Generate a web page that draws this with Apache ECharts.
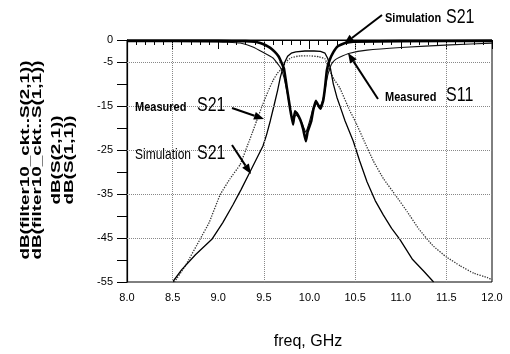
<!DOCTYPE html>
<html>
<head>
<meta charset="utf-8">
<script src="https://cdn.jsdelivr.net/npm/echarts@6/dist/echarts.min.js"></script>
<style>html,body{margin:0;padding:0;background:#fff;}#c{width:510px;height:354px;}</style>
</head>
<body>
<div id="c"></div>
<script>
// ---- data ----
const xTicks = [8.0, 8.5, 9.0, 9.5, 10.0, 10.5, 11.0, 11.5, 12.0];
const yTickLabels = [0, -5, -15, -25, -35, -45, -55];
const xGridLines = [8.5, 9.5, 10.5, 11.5];
const yGridLines = [-5, -15, -25, -35, -45];

const simS11Freq = [8.0, 9.0, 9.3, 9.4, 9.46, 9.52, 9.57, 9.62, 9.66, 9.69, 9.72, 9.75, 9.79, 9.82, 9.84, 9.86, 9.9, 9.93, 9.96, 9.98, 10.02, 10.04, 10.07, 10.1, 10.12, 10.15, 10.17, 10.19, 10.22, 10.26, 10.31, 10.39, 10.48, 11.0, 12.0];
const simS11dB   = [-0.2, -0.2, -0.25, -0.4, -0.7, -1.2, -1.8, -2.7, -3.7, -5.0, -6.5, -10.6, -15.9, -19.2, -16.2, -16.6, -18.2, -20.2, -23.0, -20.8, -18.4, -16.0, -13.8, -15.0, -15.6, -13.8, -10.8, -6.9, -4.6, -2.8, -1.4, -0.7, -0.4, -0.25, -0.2];

const measS11Freq = [8.0, 8.5, 9.0, 9.1, 9.24, 9.38, 9.49, 9.6, 9.68, 9.72, 9.76, 9.79, 9.82, 9.85, 9.88, 9.92, 9.96, 10.0, 10.04, 10.08, 10.12, 10.16, 10.2, 10.24, 10.28, 10.33, 10.44, 10.63, 11.0, 11.54, 12.0];
const measS11dB   = [-0.3, -0.35, -0.45, -0.5, -0.7, -1.6, -2.8, -4.1, -6.2, -8.5, -12.5, -16.0, -18.3, -17.0, -17.5, -19.0, -21.0, -18.5, -15.5, -14.5, -15.0, -12.5, -8.0, -5.5, -4.5, -3.9, -3.0, -2.3, -1.7, -1.1, -0.7];

const simS21Freq = [8.5, 8.6, 8.75, 8.93, 9.05, 9.16, 9.25, 9.35, 9.42, 9.49, 9.53, 9.57, 9.61, 9.65, 9.68, 9.7, 9.73, 9.76, 9.8, 9.85, 9.95, 10.05, 10.12, 10.17, 10.2, 10.23, 10.26, 10.3, 10.35, 10.39, 10.48, 10.55, 10.63, 10.72, 10.81, 10.9, 10.99, 11.13, 11.25, 11.36];
const simS21dB   = [-55, -52.2, -48.8, -45.3, -41.5, -37.5, -34.0, -29.9, -27.0, -24.1, -21.5, -18.4, -15.0, -11.5, -8.5, -7.0, -5.0, -3.7, -3.0, -2.7, -2.5, -2.5, -2.6, -3.0, -4.2, -6.5, -9.9, -13.0, -16.0, -18.4, -23.0, -27.5, -32.2, -36.5, -39.8, -42.8, -45.3, -49.9, -52.5, -55];

const measS21Freq = [8.52, 8.64, 8.8, 8.9, 9.02, 9.13, 9.24, 9.32, 9.38, 9.42, 9.49, 9.55, 9.6, 9.65, 9.7, 9.74, 9.8, 9.9, 10.0, 10.1, 10.17, 10.22, 10.27, 10.33, 10.44, 10.5, 10.6, 10.7, 10.81, 10.95, 11.07, 11.2, 11.35, 11.5, 11.65, 11.8, 11.95, 12.0];
const measS21dB   = [-55, -51.3, -45.3, -41.5, -35.2, -31.5, -28.3, -24.0, -20.7, -18.4, -14.5, -11.5, -9.2, -7.5, -6.4, -5.0, -4.0, -3.6, -3.6, -3.8, -4.3, -6.9, -9.0, -10.8, -16.0, -18.4, -23.0, -27.5, -31.5, -35.5, -39.0, -43.0, -46.7, -49.3, -51.3, -53.0, -54.0, -54.5];

const yTitleLines = ['dB(filter10_ckt..S(2,1))', 'dB(filter10_ckt..S(1,1))', 'dB(S(2,1))', 'dB(S(1,1))'];
const xTitle = 'freq, GHz';

// ---- build ----
const zip = (a, b) => a.map((v, i) => [v, b[i]]);
const FONT = '"Liberation Sans", Arial, sans-serif';

function arrow(x1, y1, x2, y2) {
  const ang = Math.atan2(y2 - y1, x2 - x1);
  const L = 10, W = 4;
  const bx = x2 - L * Math.cos(ang), by = y2 - L * Math.sin(ang);
  const px = -Math.sin(ang) * W, py = Math.cos(ang) * W;
  return [
    {type: 'line', shape: {x1: x1, y1: y1, x2: bx, y2: by}, style: {stroke: '#000', lineWidth: 2}, z: 100},
    {type: 'polygon', shape: {points: [[x2, y2], [bx + px, by + py], [bx - px, by - py]]}, style: {fill: '#000'}, z: 100}
  ];
}
function label(x, y, text, size, weight, sy) {
  return {type: 'text', x: x, y: y, scaleY: sy || 1, z: 100,
    style: {text: text, font: weight + ' ' + size + 'px ' + FONT, fill: '#000', align: 'left', verticalAlign: 'middle'}};
}

const yTitleX = [25, 37.5, 56, 69];
const graphics = [];
yTitleLines.forEach((t, i) => {
  graphics.push({type: 'text', x: yTitleX[i], y: 160, rotation: Math.PI / 2, scaleX: 1.45, z: 100,
    style: {text: t, font: 'bold 13px ' + FONT, fill: '#000', align: 'center', verticalAlign: 'middle'}});
});
graphics.push({type: 'text', x: 308, y: 342, z: 100,
  style: {text: xTitle, font: '16px ' + FONT, fill: '#000', align: 'center', verticalAlign: 'middle'}});
// annotations
graphics.push(label(385, 18, 'Simulation', 11, 'bold', 1.2));
graphics.push(label(446, 17, 'S21', 16, 'normal', 1.3));
graphics.push(...arrow(382, 15, 344, 44));
graphics.push(label(385, 97, 'Measured', 11, 'bold', 1.2));
graphics.push(label(446, 95, 'S11', 16, 'normal', 1.3));
graphics.push(...arrow(378, 99, 348, 53));
graphics.push(label(135, 107, 'Measured', 11, 'bold', 1.2));
graphics.push(label(197, 105, 'S21', 16, 'normal', 1.3));
graphics.push(...arrow(232, 108, 264, 119));
graphics.push(label(135, 155, 'Simulation', 12, 'normal', 1.2));
graphics.push(label(197, 153, 'S21', 16, 'normal', 1.3));
graphics.push(...arrow(232, 145, 251, 174));

const gridLineStyle = {color: '#888', type: 'dotted', width: 1};

const option = {
  animation: false,
  backgroundColor: '#fff',
  grid: {left: 127, right: 18, top: 40, bottom: 72, show: true, borderColor: '#000', borderWidth: 1, backgroundColor: 'transparent'},
  xAxis: {
    type: 'value', min: xTicks[0], max: xTicks[xTicks.length - 1], interval: 0.5,
    axisLine: {lineStyle: {color: '#000', width: 1.2}},
    axisTick: {show: true, inside: false, length: 9, lineStyle: {color: '#000'}},
    minorTick: {show: true, splitNumber: 5, length: 5, lineStyle: {color: '#000'}},
    splitLine: {show: false},
    axisLabel: {color: '#000', fontSize: 11, fontFamily: FONT, margin: 10, formatter: v => v.toFixed(1)}
  },
  yAxis: {
    type: 'value', min: -55, max: 0, interval: 5,
    axisLine: {show: true, lineStyle: {color: '#000', width: 1.2}},
    axisTick: {show: true, length: 10, lineStyle: {color: '#000'}},
    splitLine: {show: false},
    axisLabel: {color: '#000', fontSize: 11, fontFamily: FONT, margin: 14,
      formatter: v => (yTickLabels.indexOf(v) >= 0 ? String(v) : '')}
  },
  graphic: graphics,
  series: [
    {
      name: 'grid', type: 'line', data: [], silent: true,
      markLine: {silent: true, symbol: ['none', 'none'], label: {show: false}, lineStyle: gridLineStyle,
        data: xGridLines.map(x => ({xAxis: x})).concat(yGridLines.map(y => ({yAxis: y})))}
    },
    {name: 'meas S21', type: 'line', data: zip(measS21Freq, measS21dB), showSymbol: false, smooth: 0.1,
      lineStyle: {color: '#333', width: 1.3, type: 'dotted'}, z: 3},
    {name: 'sim S21', type: 'line', data: zip(simS21Freq, simS21dB), showSymbol: false, smooth: false,
      lineStyle: {color: '#000', width: 1.3}, z: 4},
    {name: 'meas S11', type: 'line', data: zip(measS11Freq, measS11dB), showSymbol: false, smooth: 0.1,
      lineStyle: {color: '#111', width: 1.1}, z: 5},
    {name: 'sim S11', type: 'line', data: zip(simS11Freq, simS11dB), showSymbol: false, smooth: 0.1,
      lineStyle: {color: '#000', width: 2.6}, z: 6}
  ]
};
const chart = echarts.init(document.getElementById('c'), null, {renderer: 'canvas'});
chart.setOption(option);
</script>
</body>
</html>
